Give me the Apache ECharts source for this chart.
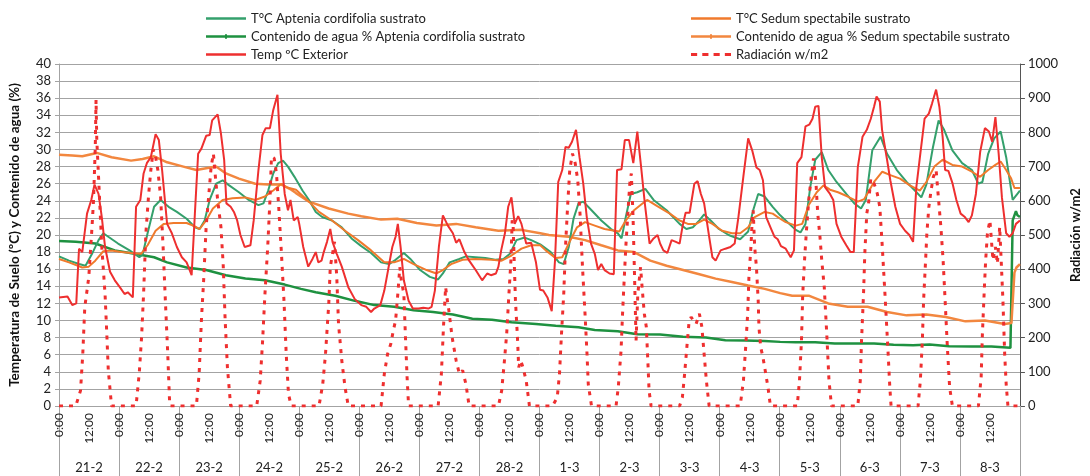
<!DOCTYPE html>
<html>
<head>
<meta charset="utf-8">
<script src="https://cdn.jsdelivr.net/npm/echarts@6/dist/echarts.min.js"></script>
<style>
  html, body { margin: 0; padding: 0; background: #fff; }
  #chart { width: 1090px; height: 476px; }
</style>
</head>
<body>
<div id="chart"></div>
<script>
// horas desde 21-2 0:00 -> valor
const dias = ['21-2','22-2','23-2','24-2','25-2','26-2','27-2','28-2','1-3','2-3','3-3','4-3','5-3','6-3','7-3','8-3'];

const tExterior = [[0,12.7],[3.4,12.8],[5.3,11.8],[6.9,12.0],[8,18.4],[9.3,18.0],[11.2,22.5],[12.9,24.1],[14.2,25.9],[15.8,24.8],[17.1,22.1],[18.4,18.6],[20.4,15.7],[22.3,14.7],[24.3,13.9],[26.2,13.1],[27.5,13.3],[29.5,12.7],[30.8,23.3],[32.5,24.1],[33.8,27.2],[35.1,28.4],[36.7,29.1],[38.6,31.8],[39.9,31.1],[41.2,27.6],[43.2,21.3],[45.1,20.2],[47.1,18.6],[49.1,17.4],[51,16.8],[53,15.3],[54.3,22.5],[55.6,29.5],[56.9,30.1],[58.8,31.6],[60.2,31.7],[61.2,33.4],[63.4,34.1],[64.7,31.9],[66,28.8],[66.9,23.7],[68.6,23.3],[69.9,22.7],[71.2,21.7],[72.5,20],[74.2,18.6],[76.5,18.8],[77.8,21.7],[79.7,27.6],[81.3,31.7],[82.6,32.5],[84.3,32.5],[85.6,34.6],[87.3,36.4],[88.6,29.5],[90.2,24.8],[91.5,22.9],[92.5,24.1],[93.8,21.7],[95.4,22.1],[96,21.3],[97.6,18.6],[99.6,16.3],[101.3,17.2],[102.6,18.0],[103.6,16.8],[104.9,17.0],[105.8,18.0],[107.1,19.2],[108.4,20.7],[109.3,19.2],[111,17.8],[113,16.3],[115.6,13.9],[118.2,12.5],[120.8,11.8],[122.8,11.6],[124.7,11.0],[126,11.4],[128.4,11.8],[130,13.5],[131.5,15.9],[133.2,18.6],[134.5,19.8],[135.4,21.3],[136.5,18.6],[137.8,14.7],[139.7,12.3],[141.4,11.4],[143.7,11.4],[145.6,11.5],[147.6,11.4],[148.9,11.6],[150.2,13.5],[151.8,18.6],[153.4,22.3],[155.4,21.1],[157.4,20.2],[158.7,19.1],[160,19.5],[162,18],[163.9,17],[166.5,15.9],[169.1,14.7],[171.1,15.5],[172.6,15.3],[174.6,15.5],[175.6,16.3],[176.7,18.2],[178.2,20.2],[179.5,23.3],[180.8,24.4],[182.1,21.3],[183.5,22.2],[184.8,21.3],[186.7,19],[188.7,19.1],[190.6,16.8],[192.2,13.6],[193.5,13.5],[195.2,12.7],[196.9,11.1],[198.2,17.0],[199.5,26.2],[201.1,27.6],[202.4,30.3],[203.7,30.2],[205,30.9],[206.6,32.3],[208,29.1],[209.5,26],[210.9,22.1],[212.6,19],[214.1,17.8],[215.4,15.9],[216.7,16.6],[218,15.9],[220,15.5],[221.7,15.4],[223,27.6],[224.8,27.7],[226.1,31.1],[227.8,31.1],[229.5,28.4],[231.1,32.1],[232.6,28.0],[234.1,23.7],[236,19],[237.6,19.6],[239.2,20],[240.2,19],[241.5,18.2],[243.1,17.9],[244.8,19.4],[246.5,19.2],[248,19],[249.1,20.9],[250.4,22.6],[252,22.6],[253.9,26],[255.2,26.3],[256.5,24.8],[257.8,23.7],[259.8,19.8],[261.1,17.4],[262.4,17],[264.4,18.2],[266.3,18.4],[268.3,18.6],[270,19],[271.5,22.1],[273.5,26.9],[275.4,31.3],[277,29.9],[278.7,27.9],[280,27.6],[281.3,26.4],[282.6,22.1],[284.6,20.7],[285.9,19.8],[287.2,19.5],[288.5,18.7],[290.4,18.4],[292.4,17.4],[293.7,18.2],[295,28.4],[296.7,29.1],[298.3,32.7],[299.8,32.9],[301.1,33.6],[302.2,35],[303.5,35.1],[304.8,29.1],[306.1,25.6],[308.1,24.8],[309.4,24.1],[310.7,21.3],[312.6,19.8],[314.6,18.8],[316.3,18],[317.6,18],[319.2,27.9],[321.1,31.5],[322.8,32.3],[324.4,33.6],[325.7,35],[326.7,36.2],[328,35.6],[328.9,32.3],[330.9,28.8],[332.2,26.4],[334.2,23.3],[336.1,21.3],[338.1,20.5],[339.8,20],[341.3,19.2],[342.6,25.6],[343.9,28.8],[345.9,33.6],[347.6,34.2],[348.9,35.4],[350.5,37],[351.8,35],[353.1,31.5],[354.1,27.6],[355.4,27.5],[357,26.1],[358.6,24.1],[360.3,22.5],[362,22.1],[363.5,21.5],[364.8,22.3],[366.4,24.8],[368.1,29.7],[370,32.5],[371.6,32.1],[372.9,30.9],[374.2,33.8],[375.5,29.5],[376.8,24.4],[378.5,20.2],[379.8,19.8],[381.1,20.2],[382.4,21.3],[384,21.7]];

const tAptenia = [[0,17.5],[4,17.0],[8,16.6],[10.6,16.4],[13.2,17.8],[15.8,19.4],[17.7,20.2],[19.7,19.8],[23.6,19],[28.2,18.2],[32.1,17.4],[33.4,17.7],[35.4,20.2],[38,23.3],[40.6,24.1],[43.8,23.3],[47.1,22.7],[51,21.9],[54.3,20.9],[56.2,20.7],[58.2,21.7],[60.2,24.1],[62.8,26],[65.4,26.4],[68,25.8],[71.9,25],[75.8,24.1],[79.7,23.5],[81.7,23.7],[83.6,25.2],[85.6,27.2],[87.6,28.4],[89.5,28.7],[91.5,28],[94.1,26.8],[97.3,25.2],[99.9,24.1],[102.6,22.7],[105.2,22.1],[109.1,21.7],[113,20.9],[116.9,19.6],[120.8,18.7],[124.7,17.9],[128.7,16.8],[131.9,16.6],[134.5,17.1],[137.8,17.9],[140.4,17.2],[144.3,15.9],[148.2,15.1],[151.5,14.8],[153.4,15.5],[156.1,16.8],[160,17.2],[162.6,17.5],[166.5,17.4],[170.4,17.3],[174.3,17.1],[177.6,17.2],[180.2,17.8],[182.8,19.4],[186.1,19.7],[188.7,19.4],[192.3,18.9],[196.5,18],[199.8,16.8],[201.7,16.6],[203.7,18.6],[205.6,21.9],[207.6,23.7],[209.5,23.9],[212.8,22.9],[216.7,21.7],[220.6,20.7],[223.3,20.2],[224.8,19.6],[226.5,22.1],[228.5,24.8],[231.1,25],[234.3,25.4],[237.6,24.1],[242.8,22.9],[248,21.3],[250.7,20.7],[253.3,20.9],[255.9,21.7],[257.8,22.4],[260.4,21.7],[263.7,20.7],[267.6,20],[270.2,19.7],[272.2,19.5],[275.4,20.4],[277.4,22.9],[279.4,24.8],[282,24.5],[285.2,23.3],[288.2,22.3],[290.4,21.7],[294.4,20.6],[296.3,20.3],[298.3,21.3],[300.2,25.6],[302.2,28.8],[304.8,29.7],[307.4,27.6],[310.7,26.2],[314.6,24.8],[317.8,23.7],[320.5,23.1],[322.4,24.1],[325,29.9],[328.3,31.5],[330.9,29.5],[334.8,27.6],[338.7,26.2],[342,25.2],[344.6,24.4],[346.6,25.9],[349.2,30.2],[351.5,33.4],[353.7,32.3],[357,29.9],[360.9,28.4],[364.8,27.6],[367.4,26],[369,26.2],[371.3,29.5],[373.7,31.3],[376.3,32.1],[378.5,29.1],[381.1,24.1],[384,25.2]];

const tSedum = [[0,17.2],[4,16.8],[9.3,16.2],[11.9,16.3],[14.5,17.0],[17.7,18.1],[21,18.2],[24.9,18],[28.8,17.9],[32.8,17.8],[35.4,18.8],[38.6,20.5],[41.9,21.3],[45.8,21.4],[51,21.4],[54.3,21],[56.2,20.7],[58.8,21.7],[61.5,23.1],[65.4,24.1],[69.3,24.3],[74.5,24.4],[78.4,24.1],[82.3,24.5],[85.6,25.2],[88.9,26],[90.8,25.6],[94.7,25.3],[99.9,23.9],[103.9,22.7],[109.1,21.7],[114.3,20.5],[119.5,19.4],[124.7,18.2],[130,16.8],[133.9,16.8],[137.8,17.2],[141.7,16.6],[146.9,15.9],[150.8,15.5],[153.4,15.9],[156.7,16.6],[161.3,17.1],[166.5,17.2],[173,17.1],[176.9,17],[180.8,17.6],[184.8,18.4],[188.7,18.8],[192.3,18.8],[194.5,18.2],[198.5,17.3],[201.1,17.4],[203.7,19],[207,20.9],[210.2,21.5],[214.1,21.1],[218,20.7],[222,20.5],[223.9,20.4],[226.5,21.7],[229.8,22.9],[232.4,23.5],[235,24.1],[238.9,23.4],[244.1,22.5],[248,21.7],[251.3,21.3],[254.6,21.3],[257.8,21.8],[261.1,21.3],[265,20.5],[268.9,20.2],[272.2,20.2],[275.4,20.9],[278,22.1],[282,22.7],[285.2,22.5],[288.2,21.9],[290.4,21.5],[294.4,21.1],[297,21.3],[299.6,23.5],[302.8,25],[305.5,25.8],[308.1,25.3],[311.3,25],[315.2,24.5],[319.2,23.9],[321.8,24.2],[325.7,26.2],[329,27.4],[332.2,27],[336.1,26.6],[340,25.8],[344,25.2],[346.6,26.2],[349.8,28],[353.1,28.8],[357,28.2],[360.9,28],[364.8,27.4],[368.1,26.8],[371.3,27.6],[374.2,28.2],[376.3,28.6],[378.5,27.6],[380.5,26.6],[381.8,25.5],[384,25.5]];

const aguaAptenia = [[0,19.3],[6.7,19.2],[14.5,19],[22.3,18.2],[30.1,17.8],[38,17.4],[43.2,16.8],[51,16.2],[58.8,15.9],[66.7,15.3],[74.5,14.9],[82.3,14.7],[90.2,14.2],[96.7,13.7],[102.6,13.3],[110.4,12.9],[118.2,12.3],[126,11.8],[133.9,11.6],[141.7,11.2],[149.5,11],[157.4,10.7],[165.2,10.2],[173,10.1],[180.8,9.8],[190.6,9.6],[198.5,9.4],[207.6,9.2],[214.1,8.9],[223.3,8.75],[231.1,8.4],[240.2,8.35],[249.4,8.1],[258.5,8],[266.3,7.7],[274.1,7.65],[282,7.6],[288.2,7.5],[294.4,7.45],[302.2,7.45],[310,7.3],[317.8,7.3],[325.7,7.3],[333.5,7.15],[341.3,7.1],[347.9,7.2],[355.7,7],[364.8,6.95],[372.6,6.95],[380.2,6.8],[381.1,21.7],[382.4,22.8],[383,22.3],[384,22.1]];

const aguaSedum = [[0,29.4],[5.3,29.3],[9.3,29.2],[15.1,29.6],[21,29.1],[28.8,28.7],[33.4,28.9],[38,29.2],[43.2,28.5],[49.7,28],[54.9,27.6],[58.8,27.8],[62.8,28],[66.7,27.2],[71.9,26.6],[78.4,26],[83.6,25.9],[88.9,25.9],[92.8,25.3],[94.7,24.9],[99.9,23.9],[107.8,23.1],[115.6,22.5],[120.8,22.2],[128.7,21.8],[135.2,21.9],[143,21.4],[150.8,21.1],[158.7,21.3],[166.5,20.9],[175.6,20.5],[184.8,20.6],[192.3,20.2],[195.8,20],[203.7,19.8],[210.2,19.4],[216.7,18.8],[223.3,18.2],[229.8,18],[236.3,17],[242.8,16.4],[249.4,15.9],[255.9,15.4],[262.4,14.9],[268.9,14.5],[275.4,14.1],[282,13.7],[288.2,13.2],[293,12.9],[299.6,12.9],[307.4,12],[315.2,11.6],[323.1,11.6],[330.9,11],[338.7,10.6],[346.6,10.7],[354.4,10.4],[362.2,9.9],[370,10],[377.9,9.6],[380.6,9.7],[381.8,15.6],[382.6,16.2],[384,16.6]];

const radiacion = [[0,0],[6.7,0],[8.6,45],[9.5,152],[10.3,289],[11.2,338],[11.9,377],[13.2,524],[13.8,602],[14.5,758],[14.8,895],[15.1,778],[15.8,670],[17.1,465],[18.4,328],[19.1,211],[19.7,104],[21,0],
  [30.8,0],[32.1,99],[33,201],[33.8,328],[34.7,504],[35.8,616],[36.7,690],[37.7,750],[38.6,729],[39.5,690],[40.6,612],[41.6,465],[42.5,309],[43.4,162],[44.2,11],[44.5,0],
  [54.9,0],[56,94],[56.9,250],[57.8,367],[58.8,524],[59.9,621],[60.8,700],[61.7,738],[62.5,670],[63.4,602],[64.7,524],[65.6,416],[66.4,250],[67.3,113],[68.6,0],
  [79,0],[80.4,74],[81.3,182],[82.3,328],[83.4,465],[84.3,602],[84.9,729],[86,724],[86.9,680],[87.8,582],[88.9,445],[89.9,309],[90.8,152],[91.7,35],[92.8,0],
  [103.9,0],[105.4,64],[106.5,152],[107.1,221],[107.8,299],[108.4,406],[109.3,445],[110.1,480],[111,377],[111.7,240],[113,133],[114.3,55],[115.6,0],
  [128.7,0],[130,94],[131.3,152],[132.6,182],[133.6,221],[134.5,250],[135.4,328],[136.2,406],[136.8,367],[137.8,328],[138.4,211],[139.1,84],[139.7,0],
  [151.5,0],[152.8,94],[153.7,240],[154.5,348],[155,318],[155.8,279],[157.1,201],[158.7,133],[160,94],[161.3,104],[162.6,64],[163.9,0],
  [175.6,0],[176.9,45],[178,133],[178.9,211],[179.8,328],[180.6,426],[181.1,543],[181.5,524],[181.9,426],[182.4,309],[183.2,201],[183.7,113],[184.5,133],[185.4,113],[186.7,74],[188,0],
  [197.2,0],[199.1,25],[200,94],[200.8,211],[201.7,328],[202.4,465],[203.3,592],[204.1,690],[205.2,738],[206.3,709],[207.3,660],[208.2,563],[209.2,406],[210.2,270],[211,152],[211.5,64],[212.8,0],
  [222.6,0],[223.5,55],[224.6,162],[225.2,270],[225.9,377],[226.5,465],[227.4,572],[228.1,651],[228.7,680],[229.4,553],[230,377],[230.6,191],[231.3,328],[232.4,406],[233,348],[233.9,270],[234.7,231],[235.3,133],[235.8,45],[236.6,0],
  [248,0],[249.1,25],[250,94],[250.9,172],[251.7,240],[252.6,260],[253.5,250],[254.6,240],[255.9,270],[256.9,231],[257.8,152],[258.7,74],[259.8,0],
  [272.2,0],[273.5,74],[274.4,172],[275.2,270],[275.7,377],[276.5,465],[277,543],[277.4,572],[278,465],[278.7,406],[279.4,309],[279.7,231],[280.4,172],[281.3,143],[282.2,104],[283.3,55],[284.3,0],
  [295,0],[295.9,74],[296.7,191],[297.2,328],[298,436],[298.7,514],[299.6,602],[300.6,670],[301.5,724],[302.5,651],[303.2,563],[304.1,494],[304.8,426],[305.8,348],[306.8,211],[307.7,74],[308.7,0],
  [319.2,0],[320.2,74],[320.7,191],[321.5,328],[322,445],[322.8,563],[323.5,592],[324.4,665],[325.7,651],[327,621],[328,582],[329,465],[329.6,387],[330.2,309],[331.2,172],[332,55],[332.5,0],
  [343.3,0],[344.2,74],[345,191],[345.5,309],[346.3,426],[346.8,504],[347.6,582],[348.5,631],[349.4,670],[350.5,690],[351.5,602],[352.4,524],[353.3,426],[354.1,309],[355,172],[355.9,55],[357,0],
  [367.4,0],[368.5,84],[369,211],[369.8,348],[370.3,426],[371,504],[372,543],[372.6,485],[373.2,426],[374.2,465],[375,416],[375.9,524],[376.5,426],[377.2,309],[377.9,152],[378.5,64],[379.2,0],[384,0]];

const fuente = 'Lato, "Open Sans", sans-serif';
const gris = '#a3a3a3';

// iconos de leyenda al estilo de Excel
const iconoLinea = 'path://M0,0H40V2.5H0Z';
const iconoMarca = 'path://M0,0H40V2.5H0Z M19,-1H21V3.5H19Z';
const iconoTrazos = 'path://M0,0H6V3H0Z M11,0H17V3H11Z M22,0H28V3H22Z M33,0H39V3H33Z';

const chart = echarts.init(document.getElementById('chart'));

function linea(name, data, color, width, extra) {
    return Object.assign({
        name: name,
        type: 'line',
        data: data,
        xAxisIndex: 0,
        yAxisIndex: 0,
        symbol: 'none',
        lineStyle: { color: color, width: width },
        itemStyle: { color: color }
    }, extra || {});
}

const leyendaBase = {
    top: 7, orient: 'vertical',
    itemWidth: 40, itemHeight: 12, itemGap: 5,
    selectedMode: false,
    symbolKeepAspect: true,
    textStyle: { fontFamily: fuente, fontSize: 13, color: '#222' }
};

const option = {
    animation: false,
    backgroundColor: '#fff',
    textStyle: { fontFamily: fuente, color: '#222' },
    grid: { left: 53, right: 56, top: 64, bottom: 70 },
    legend: [
        Object.assign({}, leyendaBase, {
            left: 201,
            data: [
                { name: 'T°C Aptenia cordifolia sustrato', icon: iconoLinea },
                { name: 'Contenido de agua % Aptenia cordifolia sustrato', icon: iconoMarca },
                { name: 'Temp ºC Exterior', icon: iconoLinea }
            ]
        }),
        Object.assign({}, leyendaBase, {
            left: 686,
            data: [
                { name: 'T°C Sedum spectabile sustrato', icon: iconoLinea },
                { name: 'Contenido de agua % Sedum spectabile sustrato', icon: iconoMarca },
                { name: 'Radiación w/m2', icon: iconoTrazos }
            ]
        })
    ],
    xAxis: [
        {
            type: 'value', min: 0, max: 384, interval: 12,
            axisLine: { show: true, lineStyle: { color: gris } },
            axisTick: { show: false },
            splitLine: { show: false },
            axisLabel: {
                rotate: 90, margin: 7, fontSize: 12, color: '#222', fontFamily: fuente,
                showMaxLabel: false,
                formatter: function (v) { return v % 24 === 0 ? '0:00' : '12:00'; }
            }
        },
        {
            type: 'category', data: dias, position: 'bottom',
            axisLine: { show: false },
            axisTick: { show: true, interval: 0, length: 70, lineStyle: { color: gris } },
            axisLabel: { interval: 0, margin: 55, fontSize: 13, color: '#222', fontFamily: fuente },
            splitLine: { show: false }
        }
    ],
    yAxis: [
        {
            type: 'value', min: 0, max: 40, interval: 2,
            name: 'Temperatura de Suelo (ºC) y Contenido de agua (%)',
            nameLocation: 'middle', nameGap: 37,
            nameTextStyle: { fontWeight: 'bold', fontSize: 13.5, color: '#111', fontFamily: fuente },
            axisLine: { show: true, lineStyle: { color: gris } },
            axisTick: { show: true, length: 4, lineStyle: { color: gris } },
            axisLabel: { fontSize: 13, margin: 8, color: '#222', fontFamily: fuente },
            splitLine: { lineStyle: { color: gris, width: 1 } }
        },
        {
            type: 'value', min: 0, max: 1000, interval: 100,
            name: 'Radiación w/m2',
            nameLocation: 'middle', nameGap: 44,
            nameTextStyle: { fontWeight: 'bold', fontSize: 13, color: '#111', fontFamily: fuente },
            axisLine: { show: true, lineStyle: { color: '#555' } },
            axisTick: { show: true, length: 5, lineStyle: { color: '#555' } },
            axisLabel: {
                fontSize: 13, margin: 8, color: '#222', fontFamily: fuente,
                formatter: function (v) { return String(v); }
            },
            splitLine: { show: false }
        }
    ],
    series: [
        linea('Contenido de agua % Aptenia cordifolia sustrato', aguaAptenia, '#1e9140', 2.5),
        linea('Contenido de agua % Sedum spectabile sustrato', aguaSedum, '#f2873f', 2.5),
        linea('T°C Aptenia cordifolia sustrato', tAptenia, '#34a06c', 2),
        linea('T°C Sedum spectabile sustrato', tSedum, '#f07a2c', 2),
        linea('Temp ºC Exterior', tExterior, '#ee2f2f', 2),
        linea('Radiación w/m2', radiacion, '#ee2f2f', 3, {
            yAxisIndex: 1,
            lineStyle: { color: '#ee2f2f', width: 3, type: [4, 6] }
        })
    ]
};

chart.setOption(option);
</script>
</body>
</html>
